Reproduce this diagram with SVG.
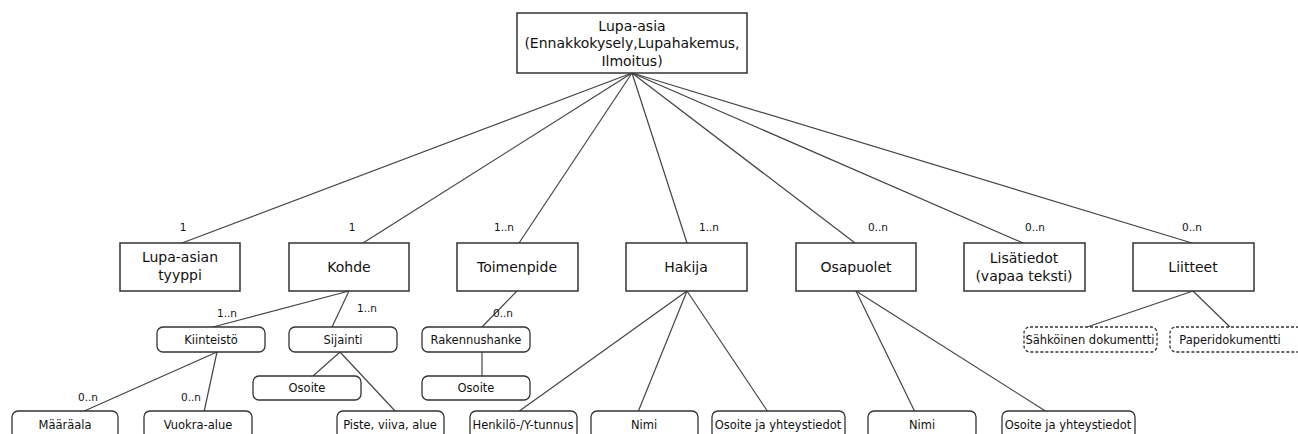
<svg xmlns="http://www.w3.org/2000/svg" width="1298" height="434" viewBox="0 0 1298 434">
  <style>
    .box { fill: #ffffff; stroke: #333333; stroke-width: 1.5; }
    .rbox { fill: #ffffff; stroke: #333333; stroke-width: 1.3; }
    .dash { fill: #ffffff; stroke: #333333; stroke-width: 1.3; stroke-dasharray: 3 2; }
    .t { font-family: "DejaVu Sans", Verdana, sans-serif; font-size: 14px; fill: #111111; text-anchor: middle; }
    .s { font-family: "DejaVu Sans", Verdana, sans-serif; font-size: 11.5px; fill: #111111; text-anchor: middle; }
    .m { font-family: "DejaVu Sans", Verdana, sans-serif; font-size: 10.5px; fill: #111111; text-anchor: middle; }
    .c line { stroke: #444444; stroke-width: 1.2; }
  </style>
  <rect width="1298" height="434" fill="#ffffff"/>

  <!-- connectors -->
  <g id="connectors" class="c">
    <line x1="632" y1="73" x2="182" y2="243"/>
    <line x1="632" y1="73" x2="363" y2="243"/>
    <line x1="632" y1="73" x2="519" y2="243"/>
    <line x1="632" y1="73" x2="687" y2="243"/>
    <line x1="632" y1="73" x2="855" y2="243"/>
    <line x1="632" y1="73" x2="1023" y2="243"/>
    <line x1="632" y1="73" x2="1192" y2="243"/>

    <line x1="349" y1="291" x2="213" y2="327"/>
    <line x1="349" y1="291" x2="332" y2="327"/>
    <line x1="517" y1="291" x2="482" y2="327"/>
    <line x1="482" y1="352" x2="482" y2="376"/>
    <line x1="340" y1="352" x2="313" y2="376"/>
    <line x1="340" y1="352" x2="396" y2="412"/>
    <line x1="217" y1="352" x2="82" y2="412"/>
    <line x1="217" y1="352" x2="204" y2="412"/>

    <line x1="687" y1="291" x2="518" y2="412"/>
    <line x1="687" y1="291" x2="638" y2="412"/>
    <line x1="687" y1="291" x2="768" y2="412"/>
    <line x1="856" y1="291" x2="915" y2="412"/>
    <line x1="856" y1="291" x2="1047" y2="412"/>

    <line x1="1193" y1="291" x2="1087" y2="327"/>
    <line x1="1193" y1="291" x2="1230" y2="327"/>
  </g>

  <!-- multiplicity labels -->
  <g id="labels">
    <text class="m" x="183" y="231">1</text>
    <text class="m" x="352" y="231">1</text>
    <text class="m" x="504" y="231">1..n</text>
    <text class="m" x="709" y="231">1..n</text>
    <text class="m" x="878" y="231">0..n</text>
    <text class="m" x="1035" y="231">0..n</text>
    <text class="m" x="1192" y="231">0..n</text>
    <text class="m" x="227" y="317">1..n</text>
    <text class="m" x="367" y="312">1..n</text>
    <text class="m" x="503" y="317">0..n</text>
    <text class="m" x="88" y="401">0..n</text>
    <text class="m" x="191" y="401">0..n</text>
  </g>

  <!-- root -->
  <g id="lupa-asia">
    <rect class="box" x="517" y="13" width="230" height="60"/>
    <text class="t" x="632" y="31">Lupa-asia</text>
    <text class="t" x="632" y="48">(Ennakkokysely,Lupahakemus,</text>
    <text class="t" x="632" y="66">Ilmoitus)</text>
  </g>

  <!-- second level -->
  <g id="lupa-asian-tyyppi">
    <rect class="box" x="120" y="243" width="120" height="48"/>
    <text class="t" x="180" y="262">Lupa-asian</text>
    <text class="t" x="180" y="280">tyyppi</text>
  </g>
  <g id="kohde">
    <rect class="box" x="289" y="243" width="120" height="48"/>
    <text class="t" x="349" y="272">Kohde</text>
  </g>
  <g id="toimenpide">
    <rect class="box" x="457" y="243" width="121" height="48"/>
    <text class="t" x="517" y="272">Toimenpide</text>
  </g>
  <g id="hakija">
    <rect class="box" x="626" y="243" width="121" height="48"/>
    <text class="t" x="686" y="272">Hakija</text>
  </g>
  <g id="osapuolet">
    <rect class="box" x="796" y="243" width="120" height="48"/>
    <text class="t" x="856" y="272">Osapuolet</text>
  </g>
  <g id="lisatiedot">
    <rect class="box" x="964" y="243" width="121" height="48"/>
    <text class="t" x="1024" y="263">Lisätiedot</text>
    <text class="t" x="1024" y="281">(vapaa teksti)</text>
  </g>
  <g id="liitteet">
    <rect class="box" x="1133" y="243" width="121" height="48"/>
    <text class="t" x="1193" y="272">Liitteet</text>
  </g>

  <!-- third level -->
  <g id="kiinteisto">
    <rect class="rbox" x="157" y="327" width="108" height="25" rx="6"/>
    <text class="s" x="211" y="344">Kiinteistö</text>
  </g>
  <g id="sijainti">
    <rect class="rbox" x="289" y="327" width="108" height="25" rx="6"/>
    <text class="s" x="343" y="344">Sijainti</text>
  </g>
  <g id="rakennushanke">
    <rect class="rbox" x="422" y="327" width="108" height="25" rx="6"/>
    <text class="s" x="476" y="344">Rakennushanke</text>
  </g>
  <g id="sahkoinen-dokumentti">
    <rect class="dash" x="1024" y="327" width="133" height="25" rx="6"/>
    <text class="s" x="1090" y="344">Sähköinen dokumentti</text>
  </g>
  <g id="paperidokumentti">
    <rect class="dash" x="1170" y="327" width="133" height="25" rx="6"/>
    <text class="s" x="1230" y="344">Paperidokumentti</text>
  </g>
  <g id="sijainti-osoite">
    <rect class="rbox" x="253" y="376" width="108" height="24" rx="6"/>
    <text class="s" x="307" y="392">Osoite</text>
  </g>
  <g id="rakennushanke-osoite">
    <rect class="rbox" x="422" y="376" width="108" height="24" rx="6"/>
    <text class="s" x="476" y="392">Osoite</text>
  </g>

  <!-- bottom level -->
  <g id="maaraala">
    <rect class="rbox" x="12" y="411" width="106" height="28" rx="6"/>
    <text class="s" x="65" y="429">Määräala</text>
  </g>
  <g id="vuokra-alue">
    <rect class="rbox" x="144" y="411" width="108" height="28" rx="6"/>
    <text class="s" x="198" y="429">Vuokra-alue</text>
  </g>
  <g id="piste-viiva-alue">
    <rect class="rbox" x="337" y="411" width="107" height="28" rx="6"/>
    <text class="s" x="390" y="429">Piste, viiva, alue</text>
  </g>
  <g id="hakija-tunnus">
    <rect class="rbox" x="470" y="411" width="107" height="28" rx="6"/>
    <text class="s" x="523" y="429">Henkilö-/Y-tunnus</text>
  </g>
  <g id="hakija-nimi">
    <rect class="rbox" x="591" y="411" width="107" height="28" rx="6"/>
    <text class="s" x="644" y="429">Nimi</text>
  </g>
  <g id="hakija-osoite">
    <rect class="rbox" x="712" y="411" width="133" height="28" rx="6"/>
    <text class="s" x="778" y="429">Osoite ja yhteystiedot</text>
  </g>
  <g id="osapuolet-nimi">
    <rect class="rbox" x="868" y="411" width="108" height="28" rx="6"/>
    <text class="s" x="922" y="429">Nimi</text>
  </g>
  <g id="osapuolet-osoite">
    <rect class="rbox" x="1002" y="411" width="133" height="28" rx="6"/>
    <text class="s" x="1068" y="429">Osoite ja yhteystiedot</text>
  </g>
</svg>
